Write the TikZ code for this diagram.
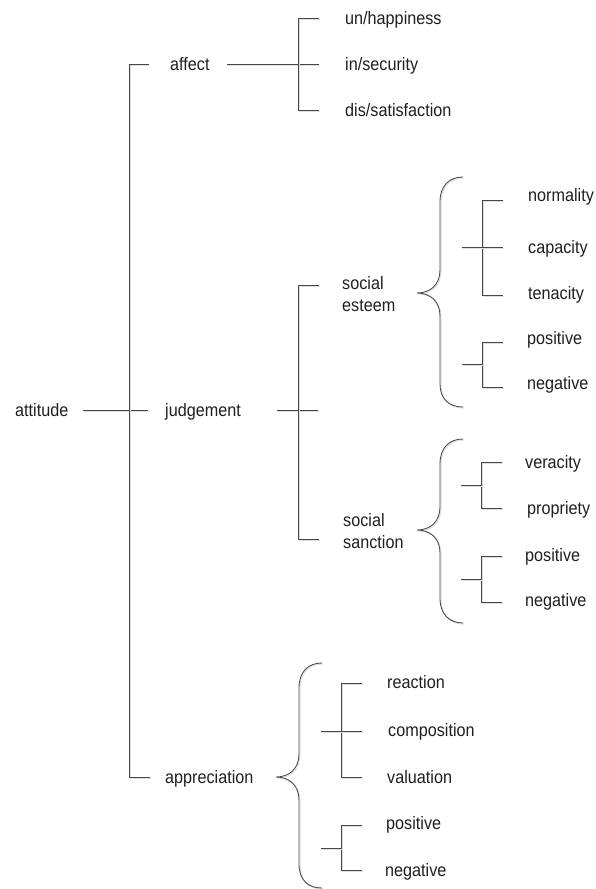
\documentclass[tikz,border=0pt]{standalone}
\usepackage{fontspec}
\setmainfont{Liberation Sans}[FakeStretch=0.9]
\begin{document}
\begin{tikzpicture}[x=1pt,y=-1pt,
  ln/.style={draw=black!72, line width=0.85pt,
    preaction={draw=black!13, line width=1pt, transform canvas={xshift=1pt,yshift=-1pt}}},
  lbl/.style={anchor=base west, inner sep=0pt, font=\fontsize{18}{22}\selectfont, text=black!88}]
\useasboundingbox (0,0) rectangle (595,889);

% ---------- labels ----------
\node[lbl] (attitude) at (15,416) {attitude};
\node[lbl] (affect) at (170,70) {affect};
\node[lbl] (judgement) at (165,416) {judgement};
\node[lbl] (appreciation) at (165,783) {appreciation};
\node[lbl] (unhap) at (345,24) {un/happiness};
\node[lbl] (insec) at (345,70) {in/security};
\node[lbl] (dissat) at (345,116) {dis/satisfaction};
\node[lbl] (esteem) at (342,289) {\begin{tabular}[t]{@{}l@{}}social\\esteem\end{tabular}};
\node[lbl] (sanction) at (343,526) {\begin{tabular}[t]{@{}l@{}}social\\sanction\end{tabular}};
\node[lbl] (normality) at (528,201) {normality};
\node[lbl] (capacity) at (528,253) {capacity};
\node[lbl] (tenacity) at (528,299) {tenacity};
\node[lbl] (posA) at (527,344) {positive};
\node[lbl] (negA) at (527,389) {negative};
\node[lbl] (veracity) at (525,468) {veracity};
\node[lbl] (propriety) at (527,514) {propriety};
\node[lbl] (posB) at (525,561) {positive};
\node[lbl] (negB) at (525,606) {negative};
\node[lbl] (reaction) at (387,688) {reaction};
\node[lbl] (composition) at (388,736) {composition};
\node[lbl] (valuation) at (387,783) {valuation};
\node[lbl] (posC) at (386,829) {positive};
\node[lbl] (negC) at (385,876) {negative};

% ---------- junction coordinates ----------
\coordinate (attL) at (83,410);   \coordinate (attR) at (148,410);
\coordinate (mT) at (149,64);     \coordinate (mB) at (129,777);  \coordinate (mBe) at (150,777);
\coordinate (afL) at (227,64);    \coordinate (afR) at (319,64);
\coordinate (afT) at (319,18);    \coordinate (afB) at (298,110); \coordinate (afBe) at (319,110);
\coordinate (juL) at (277,410);   \coordinate (juR) at (318,410);
\coordinate (juT) at (319,285);   \coordinate (juB) at (298,539); \coordinate (juBe) at (319,539);

% ---------- main brackets ----------
\draw[ln] (attL) -- (attR);
\draw[ln] (mT) -| (mB) -- (mBe);
\draw[ln] (afL) -- (afR);
\draw[ln] (afT) -| (afB) -- (afBe);
\draw[ln] (juL) -- (juR);
\draw[ln] (juT) -| (juB) -- (juBe);

% social esteem groups
\draw[ln] (503,200) -| (482,295) -- (503,295);
\draw[ln] (462,247) -- (503,247);
\draw[ln] (503,342) -| (482,387) -- (503,387);
\draw[ln] (462,364) -- (482,364);

% social sanction groups
\draw[ln] (502,462) -| (481,508) -- (502,508);
\draw[ln] (461,485) -- (481,485);
\draw[ln] (502,556) -| (481,602) -- (502,602);
\draw[ln] (461,579) -- (481,579);

% appreciation groups
\draw[ln] (362,683) -| (341,777) -- (362,777);
\draw[ln] (321,731) -- (362,731);
\draw[ln] (362,825) -| (341,870) -- (362,870);
\draw[ln] (321,848) -- (341,848);

% ---------- curly braces ----------
\draw[ln] (463,177) .. controls (449,177) and (440,186) .. (440,202) -- (440,270)
  .. controls (440,285) and (430,293) .. (417,293)
  .. controls (430,293) and (440,301) .. (440,316) -- (440,384)
  .. controls (440,399) and (449,407) .. (463,407);
\draw[ln] (463,439) .. controls (449,439) and (440,448) .. (440,464) -- (440,507)
  .. controls (440,522) and (430,530) .. (417,530)
  .. controls (430,530) and (440,538) .. (440,553) -- (440,598)
  .. controls (440,614) and (449,623) .. (463,623);
\draw[ln] (322,663) .. controls (308,663) and (299,672) .. (299,688) -- (299,754)
  .. controls (299,769) and (289,777) .. (276,777)
  .. controls (289,777) and (299,785) .. (299,800) -- (299,864)
  .. controls (299,880) and (308,888) .. (322,888);
\end{tikzpicture}
\end{document}
